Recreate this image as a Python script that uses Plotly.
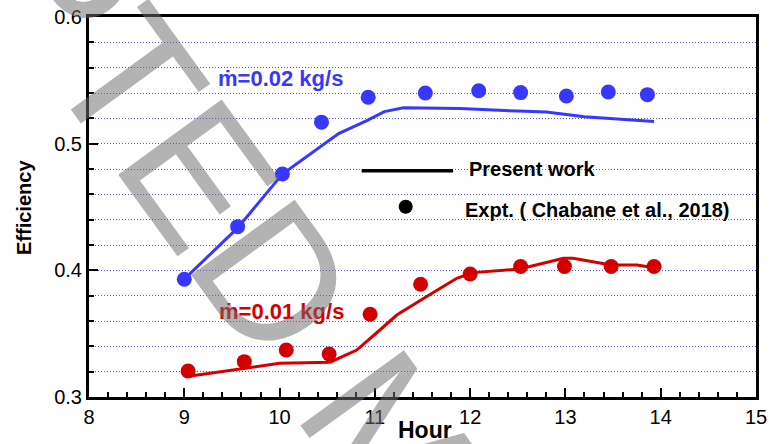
import plotly.graph_objects as go

# Collector efficiency vs. time of day for two mass flow rates
# Experimental points (Chabane et al., 2018)
hour_exp_002 = [9.0, 9.56, 10.03, 10.44, 10.93, 11.53, 12.09, 12.53, 13.01, 13.45, 13.86]
eff_exp_002 = [0.393, 0.4345, 0.476, 0.517, 0.5366, 0.540, 0.5418, 0.5403, 0.5376, 0.5408, 0.5387]

hour_exp_001 = [9.04, 9.63, 10.07, 10.52, 10.95, 11.48, 12.0, 12.53, 12.99, 13.48, 13.93]
eff_exp_001 = [0.3205, 0.3279, 0.3371, 0.334, 0.3653, 0.389, 0.3971, 0.403, 0.403, 0.403, 0.403]

# Present work (simulation)
hour_sim_002 = [9.0, 9.56, 10.03, 10.42, 10.62, 10.91, 11.1, 11.3, 11.9, 12.5, 12.8, 13.2, 13.93]
eff_sim_002 = [0.393, 0.4335, 0.476, 0.4976, 0.508, 0.518, 0.5253, 0.5284, 0.5277, 0.5257, 0.525, 0.5213, 0.5175]

hour_sim_001 = [9.01, 9.63, 10.0, 10.53, 10.81, 11.05, 11.23, 11.54, 11.86, 12.03, 12.52, 12.98,
                13.08, 13.48, 13.75, 13.93]
eff_sim_001 = [0.316, 0.3229, 0.3266, 0.3275, 0.3371, 0.3527, 0.3647, 0.3792, 0.3937, 0.3982, 0.401,
               0.4095, 0.4095, 0.4042, 0.4042, 0.402]

BLUE = "rgb(55,55,255)"
RED = "rgb(212,0,0)"
GRID = "rgb(80,80,245)"
GRID_DASH = "1px,2px"
FONT = "Arial, 'Liberation Sans', sans-serif"

fig = go.Figure()
fig.add_trace(go.Scatter(x=hour_sim_002, y=eff_sim_002, mode="lines",
                         line=dict(color=BLUE, width=3), showlegend=False))
fig.add_trace(go.Scatter(x=hour_exp_002, y=eff_exp_002, mode="markers",
                         marker=dict(color=BLUE, size=15), showlegend=False))
fig.add_trace(go.Scatter(x=hour_sim_001, y=eff_sim_001, mode="lines",
                         line=dict(color=RED, width=3), showlegend=False))
fig.add_trace(go.Scatter(x=hour_exp_001, y=eff_exp_001, mode="markers",
                         marker=dict(color=RED, size=15), showlegend=False))

fig.update_layout(
    width=769, height=444,
    margin=dict(l=89, r=13, t=17, b=47),
    paper_bgcolor="white", plot_bgcolor="white",
    font=dict(family=FONT, color="black"),
    showlegend=False,
)

fig.update_xaxes(
    range=[8, 15], dtick=1, tick0=8, automargin=False,
    ticks="inside", ticklen=9, tickwidth=2, tickcolor="black",
    showline=True, linewidth=3, linecolor="black", mirror=True,
    showgrid=False, zeroline=False,
    tickfont=dict(size=20, family=FONT),
    minor=dict(dtick=0.2, ticks="inside", ticklen=5, tickwidth=1.5, tickcolor="black", showgrid=False),
)
fig.update_yaxes(
    range=[0.3, 0.6], dtick=0.1, tick0=0.3, tickformat=".1f", automargin=False,
    ticks="inside", ticklen=9, tickwidth=2, tickcolor="black",
    showline=True, linewidth=3, linecolor="black", mirror=True,
    showgrid=True, gridcolor=GRID, griddash=GRID_DASH, gridwidth=1,
    zeroline=False,
    tickfont=dict(size=20, family=FONT),
    minor=dict(dtick=0.02, ticks="inside", ticklen=5, tickwidth=1.5, tickcolor="black",
               showgrid=True, gridcolor=GRID, griddash=GRID_DASH, gridwidth=1),
)

# Axis titles
fig.add_annotation(text="<b>Hour</b>", xref="paper", yref="paper", x=0.503, y=-0.087,
                   showarrow=False, font=dict(size=23, family=FONT), xanchor="center", yanchor="middle")
fig.add_annotation(text="<b>Efficiency</b>", xref="paper", yref="paper", x=-0.0975, y=0.5,
                   showarrow=False, textangle=-90, font=dict(size=20, family=FONT),
                   xanchor="center", yanchor="middle")

# Series labels
fig.add_annotation(text="<b>ṁ=0.02 kg/s</b>", xref="paper", yref="paper", x=0.19, y=0.837,
                   showarrow=False, font=dict(size=22, color=BLUE, family=FONT),
                   xanchor="left", yanchor="middle")
fig.add_annotation(text="<b>ṁ=0.01 kg/s</b>", xref="paper", yref="paper", x=0.192, y=0.226,
                   showarrow=False, font=dict(size=22, color=RED, family=FONT),
                   xanchor="left", yanchor="middle")

# Key: line = present work, dot = experiment
fig.add_shape(type="line", xref="paper", yref="paper", x0=0.4088, x1=0.5459, y0=0.5955, y1=0.5955,
              line=dict(color="black", width=3.5))
fig.add_shape(type="circle", xref="paper", yref="paper", x0=0.4748 - 0.0105, x1=0.4748 + 0.0105,
              y0=0.5008 - 0.0184, y1=0.5008 + 0.0184, fillcolor="black", line=dict(width=0))
fig.add_annotation(text="<b>Present work</b>", xref="paper", yref="paper", x=0.566, y=0.6005,
                   showarrow=False, font=dict(size=20, family=FONT), xanchor="left", yanchor="middle")
fig.add_annotation(text="<b>Expt. ( Chabane et al., 2018)</b>", xref="paper", yref="paper",
                   x=0.560, y=0.491, showarrow=False, font=dict(size=20, family=FONT),
                   xanchor="left", yanchor="middle")

# Diagonal manuscript stamp over the figure
fig.add_annotation(text="ACCEPTED MANUSCRIPT", xref="paper", yref="paper", x=0.455, y=-0.12,
                   showarrow=False, textangle=54, font=dict(size=186, color="rgba(110,110,110,0.52)", family=FONT),
                   xanchor="center", yanchor="middle")

fig.write_html("out.html")
